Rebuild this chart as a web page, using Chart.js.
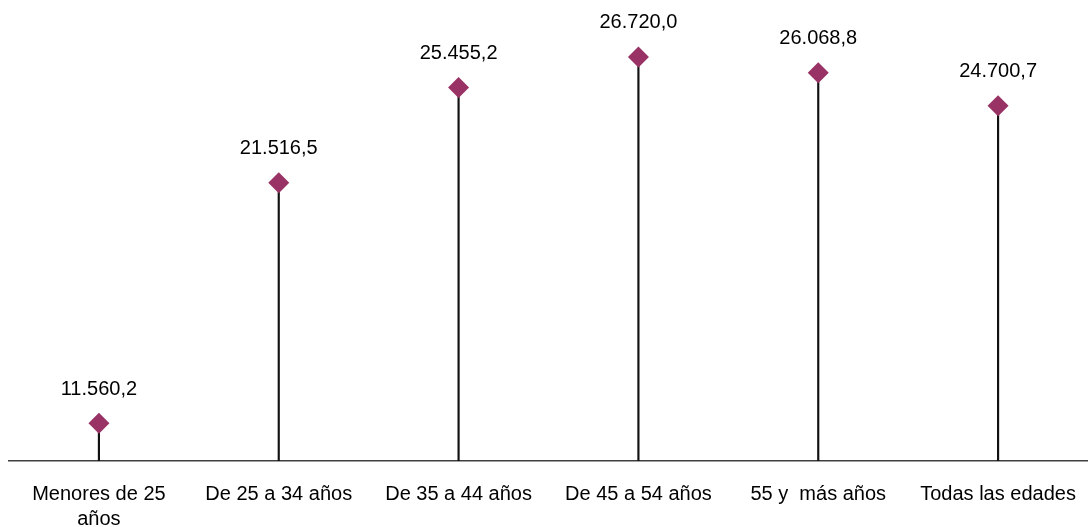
<!DOCTYPE html>
<html>
<head>
<meta charset="utf-8">
<script src="https://cdn.jsdelivr.net/npm/chart.js@4/dist/chart.umd.min.js"></script>
<style>
  html, body { margin: 0; padding: 0; background: #fff; }
  #wrap { width: 1088px; height: 527px; }
</style>
</head>
<body>
<div id="wrap"><canvas id="graph"></canvas></div>
<script>
// data
const categories = [['Menores de 25', 'años'], 'De 25 a 34 años', 'De 35 a 44 años', 'De 45 a 54 años', '55 y  más años', 'Todas las edades'];
const values = [11560.2, 21516.5, 25455.2, 26720.0, 26068.8, 24700.7];
const axisMin = 10000;
const axisMax = 28000;

const fmt = (v) => v.toLocaleString('de-DE', { minimumFractionDigits: 1, maximumFractionDigits: 1 });

// value labels above each diamond
const valueLabels = {
  id: 'valueLabels',
  afterDatasetsDraw(chart) {
    const ctx = chart.ctx;
    const meta = chart.getDatasetMeta(1);
    ctx.save();
    ctx.font = '20px "Liberation Sans", Arial, sans-serif';
    ctx.fillStyle = '#000';
    ctx.textAlign = 'center';
    ctx.textBaseline = 'middle';
    meta.data.forEach((pt, i) => {
      ctx.fillText(fmt(values[i]), pt.x, pt.y - 34);
    });
    ctx.restore();
  }
};

const graph = document.getElementById('graph').getContext('2d');
new Chart(graph, {
  data: {
    labels: categories,
    datasets: [
      {
        type: 'bar',
        data: values,
        base: axisMin,
        backgroundColor: '#111',
        barThickness: 1.5,
        order: 2,
      },
      {
        type: 'line',
        data: values,
        showLine: false,
        pointStyle: 'rectRot',
        pointRadius: 10.5,
        pointHoverRadius: 10.5,
        pointBackgroundColor: '#993366',
        pointBorderColor: '#993366',
        pointBorderWidth: 0,
        order: 1,
      },
    ],
  },
  options: {
    responsive: true,
    maintainAspectRatio: false,
    animation: false,
    layout: { autoPadding: false, padding: { top: 26, left: 9, right: 0, bottom: 0 } },
    plugins: {
      legend: { display: false },
      tooltip: { enabled: false },
    },
    scales: {
      x: {
        grid: { display: false, drawTicks: false },
        border: { display: true, color: '#404040', width: 1.5 },
        ticks: {
          color: '#000',
          padding: 21,
          maxRotation: 0,
          autoSkip: false,
          font: { family: '"Liberation Sans", Arial, sans-serif', size: 20, lineHeight: 1.25 },
        },
        afterFit(scale) {
          scale.height = 66;
          scale.paddingLeft = 0;
          scale.paddingRight = 0;
        },
      },
      y: {
        display: false,
        min: axisMin,
        max: axisMax,
      },
    },
  },
  plugins: [valueLabels],
});
</script>
</body>
</html>
